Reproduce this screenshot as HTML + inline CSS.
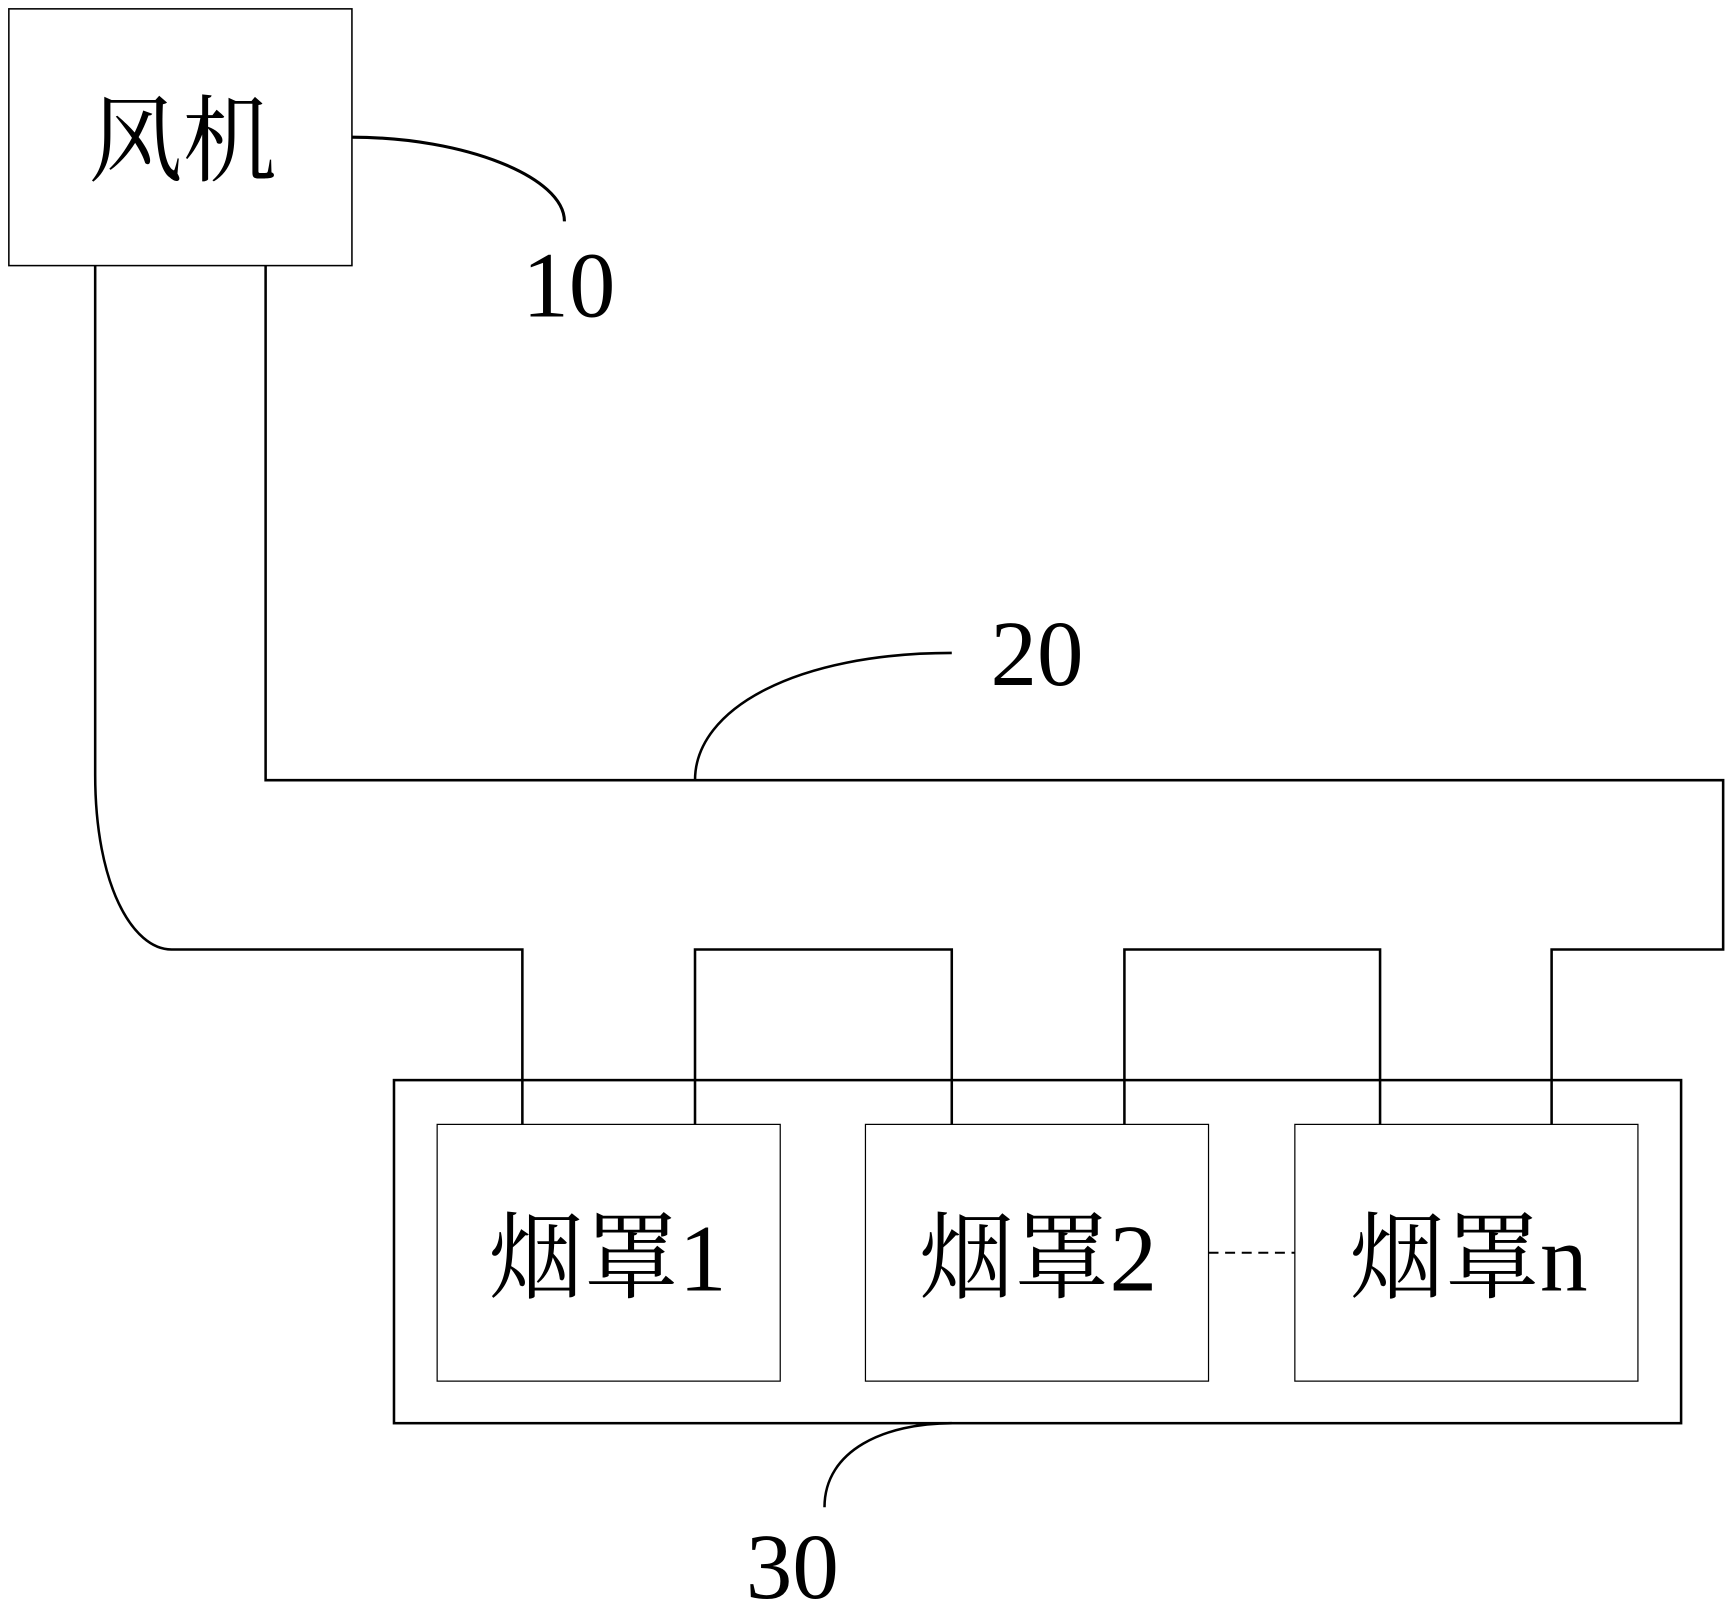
<!DOCTYPE html>
<html><head><meta charset="utf-8"><style>html,body{margin:0;padding:0;background:#fff}svg{display:block}</style></head>
<body>
<svg width="1732" height="1608" viewBox="0 0 1565 1453" preserveAspectRatio="none" xmlns="http://www.w3.org/2000/svg">
<g fill="none" stroke="#000">
<rect x="8" y="8" width="310" height="232" stroke-width="1.4"/>
<path d="M318 124 C420 124 510 160 510 200" stroke-width="2.8"/>
<path d="M86 240 L86 700 C86 800 120 858 155 858 L472 858 L472 1016" stroke-width="2.3"/>
<path d="M240 240 L240 705 L1557 705 L1557 858 L1402 858 L1402 1016" stroke-width="2.3"/>
<path d="M628 1016 L628 858 L860 858 L860 1016" stroke-width="2.3"/>
<path d="M1016 1016 L1016 858 L1247 858 L1247 1016" stroke-width="2.3"/>
<path d="M628 705 C628 640 720 590 860 590" stroke-width="2.3"/>
<rect x="356" y="976" width="1163" height="310" stroke-width="2.3"/>
<rect x="395" y="1016" width="310" height="232" stroke-width="1.1"/>
<rect x="782" y="1016" width="310" height="232" stroke-width="1.1"/>
<rect x="1170" y="1016" width="310" height="232" stroke-width="1.1"/>
<line x1="1092" y1="1132" x2="1170" y2="1132" stroke-width="1.8" stroke-dasharray="9,6"/>
<path d="M860 1286 C800 1286 745 1310 745 1362" stroke-width="2.3"/>
</g>
<g font-family="'Liberation Serif','Noto Serif CJK SC',serif" fill="#000">
<text x="165" y="157" font-size="85" text-anchor="middle">风机</text>
<text x="514" y="286" font-size="84" text-anchor="middle">10</text>
<text x="937" y="619" font-size="84" text-anchor="middle">20</text>
<text x="716" y="1444" font-size="84" text-anchor="middle">30</text>
<text x="549" y="1166" font-size="86" text-anchor="middle">烟罩1</text>
<text x="938" y="1166" font-size="86" text-anchor="middle">烟罩2</text>
<text x="1327" y="1166" font-size="86" text-anchor="middle">烟罩n</text>
</g>
</svg>
</body></html>
